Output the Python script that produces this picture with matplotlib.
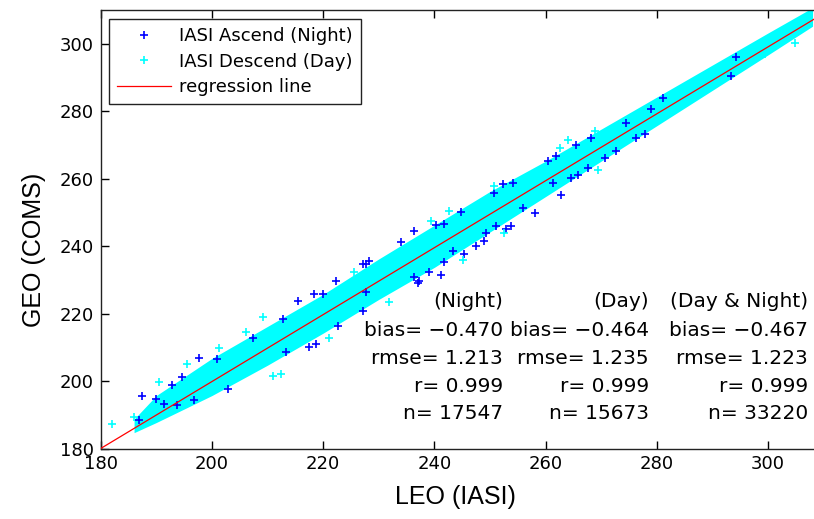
import matplotlib
matplotlib.use('Agg')
import matplotlib.pyplot as plt
from matplotlib import font_manager

# envelope of the dense cyan (Day) cloud
band_x = [186, 190, 200, 210, 220, 230, 240, 250, 260, 270, 280, 290, 300, 308]
band_hi = [188.7, 195.7, 206.7, 216.2, 225.7, 236.2, 246.2, 256.2, 265.2, 274.7, 284.2, 293.7, 303.2, 310.7]
band_lo = [184.7, 187.7, 195.7, 204.7, 214.2, 224.2, 233.7, 244.2, 254.7, 265.2, 275.7, 286.2, 296.7, 305.2]

# visible blue points (IASI Ascend, Night)
night_x = [187.5, 189.9, 192.9, 194.7, 197.7, 201.0, 207.3, 212.7, 215.4, 218.4, 219.9, 222.3, 227.7,
           227.1, 228.3, 234.0, 236.4, 240.3, 241.8, 244.7, 250.8, 252.3, 254.1, 260.4, 261.9, 265.5,
           268.2, 274.5, 279.0, 281.1, 294.3,
           186.9, 191.4, 193.8, 196.8, 202.8, 213.3, 217.5, 218.7, 222.6, 227.1, 227.7, 236.4, 237.0,
           237.3, 239.1, 241.2, 241.8, 243.3, 245.4, 247.5, 249.0, 249.3, 251.1, 252.9, 253.8, 255.9,
           258.0, 261.3, 262.8, 264.6, 265.8, 267.6, 270.6, 272.7, 276.3, 277.8, 293.4]
night_y = [195.7, 194.8, 198.7, 201.2, 206.8, 206.6, 212.7, 218.4, 223.8, 225.8, 225.8, 229.7, 234.7,
           234.7, 235.6, 241.2, 244.5, 246.2, 246.5, 250.1, 255.8, 258.3, 258.8, 265.2, 266.6, 270.1,
           272.1, 276.5, 280.6, 283.9, 296.2,
           188.4, 193.3, 192.8, 194.3, 197.7, 208.6, 210.0, 211.0, 216.4, 220.9, 226.3, 230.7, 229.2,
           229.7, 232.4, 231.4, 235.2, 238.6, 237.6, 240.1, 241.5, 244.0, 246.0, 245.0, 246.0, 251.4,
           249.9, 258.8, 255.3, 260.3, 261.2, 263.2, 266.2, 268.1, 272.1, 273.1, 290.3]

# cyan points standing out of the band (IASI Descend, Day)
day_x = [182.1, 186.0, 190.5, 195.6, 201.3, 206.1, 209.1, 210.9, 212.4, 221.1, 225.6, 231.9, 239.4,
         242.7, 245.1, 250.8, 252.6, 262.5, 264.0, 268.8, 269.4, 299.4, 302.7, 304.8, 305.1]
day_y = [187.2, 189.4, 199.7, 205.1, 209.7, 214.5, 218.9, 201.5, 202.2, 212.7, 232.4, 223.3, 247.4,
         250.4, 235.9, 257.9, 244.0, 269.1, 271.6, 274.1, 262.7, 297.1, 303.1, 300.3, 303.6]

reg_x = [180, 310]
reg_y = [180.0, 309.0]

titles = ['(Night)', '(Day)', '(Day & Night)']
bias = [-0.470, -0.464, -0.467]
rmse = [1.213, 1.235, 1.223]
corr = [0.999, 0.999, 0.999]
count = [17547, 15673, 33220]

names = {f.name for f in font_manager.fontManager.ttflist}
label_font = 'Liberation Sans Narrow' if 'Liberation Sans Narrow' in names else 'Liberation Sans'
label_size = 22 if label_font == 'Liberation Sans Narrow' else 18

plt.rcParams['font.family'] = 'DejaVu Sans'

W, H = 814, 519
fig = plt.figure(figsize=(W / 100, H / 100), dpi=100)
ax = fig.add_axes([100.7 / W, (H - 448.5) / H, 723 / W, 438.5 / H])

ax.fill_between(band_x, band_lo, band_hi, color='#00ffff', lw=0, zorder=2)
ax.plot(night_x, night_y, '+', color='#0000ff', ms=6, mew=1.2, label='IASI Ascend (Night)', zorder=3)
ax.plot(day_x, day_y, '+', color='#00ffff', ms=6, mew=1.2, label='IASI Descend (Day)', zorder=3)
ax.plot(reg_x, reg_y, '-', color='#ff0000', lw=0.9, label='regression line', zorder=4)

ax.set_xlim(180, 310)
ax.set_ylim(180, 310)
ax.set_xticks(range(180, 301, 20))
ax.set_yticks(range(180, 301, 20))
ax.tick_params(direction='in', top=True, right=True, length=5.5, width=1, pad=5, labelsize=13)
for s in ax.spines.values():
    s.set_linewidth(1)
    s.set_color('#222222')

ax.set_xlabel('LEO (IASI)', family=label_font, fontsize=label_size)
ax.set_ylabel('GEO (COMS)', family=label_font, fontsize=label_size)
ax.xaxis.set_label_coords((455 - 100.7) / 723, -(485 - 448.5) / 438.5)
ax.yaxis.set_label_coords((46 - 100.7) / 723, (448.5 - 250) / 438.5)

leg = ax.legend(loc='upper left', bbox_to_anchor=(109 / W, 1 - 19 / H), bbox_transform=fig.transFigure,
                borderaxespad=0, fontsize=13, numpoints=1, handlelength=3.0, handletextpad=0.45,
                labelspacing=0.42, borderpad=0.45, fancybox=False, framealpha=1)
leg.get_frame().set_edgecolor('#222222')
leg.get_frame().set_linewidth(1)

# statistics table, each column right aligned
col_right = [503, 649, 808]
row_y = [301.7, 330, 358.3, 386, 413.3]
for i in range(3):
    lines = [titles[i],
             'bias= ' + f'{bias[i]:.3f}'.replace('-', '\u2212'),
             f'rmse= {rmse[i]:.3f}',
             f'r= {corr[i]:.3f}',
             f'n= {count[i]}']
    for txt, yy in zip(lines, row_y):
        fig.text(col_right[i] / W, 1 - yy / H, txt, ha='right', va='center', fontsize=14.5)

fig.savefig('out.png', dpi=100)
